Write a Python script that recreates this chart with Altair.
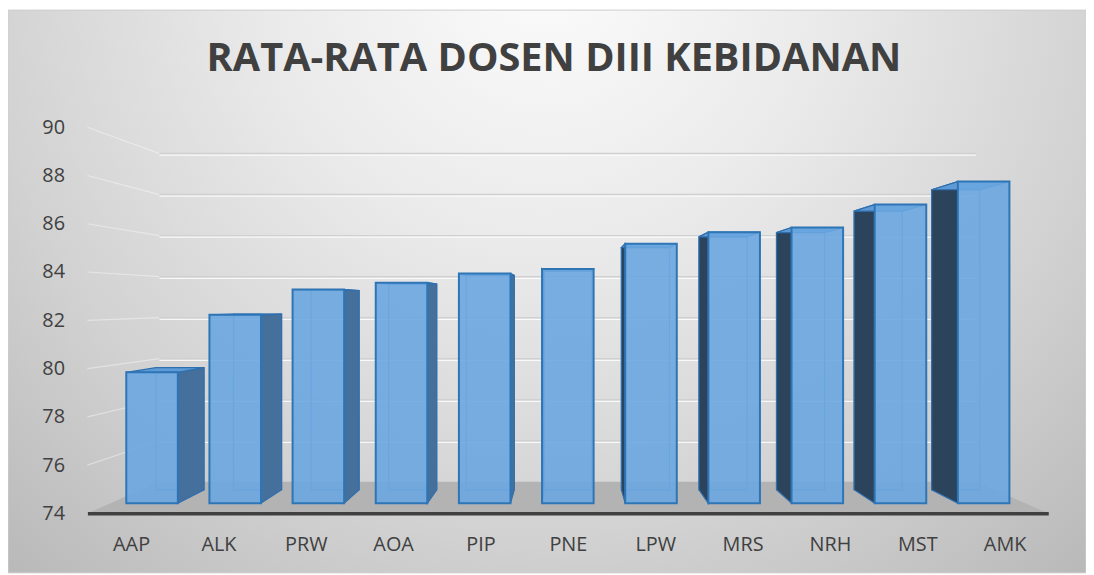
import altair as alt
import pandas as pd

# ---- data ----
categories = ["AAP", "ALK", "PRW", "AOA", "PIP", "PNE", "LPW", "MRS", "NRH", "MST", "AMK"]
values = [79.7, 82.2, 83.3, 83.6, 84.0, 84.2, 85.3, 85.8, 86.0, 87.0, 88.0]
y_ticks = [74, 76, 78, 80, 82, 84, 86, 88, 90]
title_text = "RATA-RATA DOSEN DIII KEBIDANAN"

bars = pd.DataFrame({"name": categories, "value": values,
                     "idx": list(range(len(categories)))})
ticks = pd.DataFrame({"tick": y_ticks})

# ---- pseudo-3D projection constants (data units) ----
CX = 5.0      # vanishing centre, category-index units
CY = 82.72    # vanishing centre, value units
RF = 0.952    # bar front plane
RB = 0.888    # bar back plane
RW = 0.85     # back wall
HALF = 0.31   # half bar width
BASE = 74

W, H = 968, 389
PADL, PADT, PADR, PADB = 80, 118, 38, 60

xs = alt.Scale(domain=[-0.5, 10.5], nice=False, zero=False)
ys = alt.Scale(domain=[74, 90], nice=False, zero=False)


def px(e, r):
    return f"{CX} + (({e}) - {CX}) * ({r})"


def py(e, r):
    return f"{CY} + (({e}) - {CY}) * ({r})"


label_expr = "[" + ",".join(f"'{c}'" for c in categories) + "][datum.value]"

bg_grad = {
    "gradient": "radial",
    "x1": 0.5, "y1": 0.2, "r1": 0,
    "x2": 0.5, "y2": 0.2, "r2": 0.75,
    "stops": [
        {"offset": 0, "color": "#fcfcfc"},
        {"offset": 0.35, "color": "#eaeaea"},
        {"offset": 0.7, "color": "#d2d2d2"},
        {"offset": 1, "color": "#b9b9b9"},
    ],
}

one = alt.Data(values=[{"a": 0}])

background = alt.Chart(one).mark_rect(fill=bg_grad, stroke="#d0d0d0", strokeWidth=1).encode(
    x=alt.value(-PADL), x2=alt.value(W + PADR),
    y=alt.value(-PADT), y2=alt.value(H + PADB),
)

# side wall faint lines
side_lines = alt.Chart(ticks).transform_filter("datum.tick > 74").transform_calculate(
    x0="-0.5", x1=px("-0.5", RW), y1=py("datum.tick", RW)
).mark_rule(color="#ffffff", strokeWidth=1.2, opacity=0.4).encode(
    x=alt.X("x0:Q", scale=xs), x2="x1:Q",
    y=alt.Y("tick:Q", scale=ys), y2="y1:Q",
)

grid_hi = alt.Chart(ticks).transform_filter("datum.tick > 74").transform_calculate(
    xa=px("-0.5", RW), xb=px("10.5", RW), yy=py("datum.tick", RW)
).mark_rule(color="#ffffff", strokeWidth=1.5, yOffset=1.5, opacity=0.8).encode(
    x=alt.X("xa:Q", scale=xs), x2="xb:Q", y=alt.Y("yy:Q", scale=ys)
)
grid = alt.Chart(ticks).transform_filter("datum.tick > 74").transform_calculate(
    xa=px("-0.5", RW), xb=px("10.5", RW), yy=py("datum.tick", RW)
).mark_rule(color="#d0d0d0", strokeWidth=1.5).encode(
    x=alt.X("xa:Q", scale=xs), x2="xb:Q", y=alt.Y("yy:Q", scale=ys)
)

floor_data = alt.Data(values=[{"k": 0}, {"k": 1}])
floor = alt.Chart(floor_data).transform_calculate(
    r=f"datum.k == 0 ? 1 : {RW}"
).transform_calculate(
    xl=px("-0.5", "datum.r"), xr=px("10.5", "datum.r"), yy=py(str(BASE), "datum.r")
).mark_area(orient="horizontal", color="#b3b3b3").encode(
    y=alt.Y("yy:Q", scale=ys), x=alt.X("xl:Q", scale=xs), x2="xr:Q"
)

geo = alt.Chart(bars).transform_calculate(k="[0, 1]").transform_flatten(["k"]).transform_calculate(
    r=f"datum.k == 0 ? {RF} : {RB}"
).transform_calculate(
    xl=px(f"datum.idx - {HALF}", "datum.r"),
    xr=px(f"datum.idx + {HALF}", "datum.r"),
    yt=py("datum.value", "datum.r"),
    yb=py(str(BASE), "datum.r"),
).transform_calculate(
    xe=f"datum.idx < {CX} ? datum.xr : datum.xl"
)

back_outline = geo.transform_filter("datum.k == 1").mark_rect(
    filled=False, stroke="#3f86c8", strokeWidth=1.2, opacity=0.7
).encode(
    x=alt.X("xl:Q", scale=xs), x2="xr:Q", y=alt.Y("yt:Q", scale=ys), y2="yb:Q"
)

side = geo.mark_area(orient="vertical", stroke="#2f6fae", strokeWidth=1.2).encode(
    x=alt.X("xe:Q", scale=xs),
    y=alt.Y("yt:Q", scale=ys), y2="yb:Q",
    detail="name:N",
    color=alt.condition(f"datum.idx < {CX}", alt.value("#44709b"), alt.value("#2b435b")),
)

top = geo.mark_area(orient="horizontal", stroke="#2f6fae", strokeWidth=1.2).encode(
    y=alt.Y("yt:Q", scale=ys), x=alt.X("xl:Q", scale=xs), x2="xr:Q",
    detail="name:N",
    color=alt.value("#5e9bd6"),
)

front = geo.transform_filter("datum.k == 0").mark_rect(
    fill="#6aa6e0", fillOpacity=0.9, stroke="#2e75b6", strokeWidth=2
).encode(
    x=alt.X("xl:Q", scale=xs), x2="xr:Q",
    y=alt.Y("yt:Q", scale=ys), y2="yb:Q",
)

# axes layer (front plane)
axes = alt.Chart(bars).mark_point(opacity=0).encode(
    x=alt.X("idx:Q", scale=xs, title=None, axis=alt.Axis(
        values=list(range(len(categories))), labelExpr=label_expr,
        grid=False, ticks=False, tickSize=0, domain=True, domainColor="#404040",
        domainWidth=3.5, labelFontSize=20, labelColor="#404040", labelFont="Open Sans",
        labelPadding=21, zindex=1)),
    y=alt.Y("value:Q", scale=ys, title=None, axis=alt.Axis(
        values=y_ticks, grid=False, ticks=False, tickSize=0, domain=False,
        labelFontSize=20, labelColor="#404040", labelFont="Open Sans",
        labelPadding=23, zindex=1)),
)

chart = alt.layer(
    background, side_lines, grid_hi, grid, floor, back_outline, side, top, front, axes
).properties(
    width=W, height=H,
    padding={"left": PADL, "top": PADT, "right": PADR, "bottom": PADB},
    autosize=alt.AutoSizeParams(type="none"),
    title=alt.Title(title_text, fontSize=40, font="Open Sans", fontWeight="bold",
                    color="#404040", anchor="middle", frame="bounds",
                    baseline="alphabetic", offset=-102, dx=7),
).configure_view(stroke=None)

chart.save("out.html", embed_options={"renderer": "svg", "actions": False})
